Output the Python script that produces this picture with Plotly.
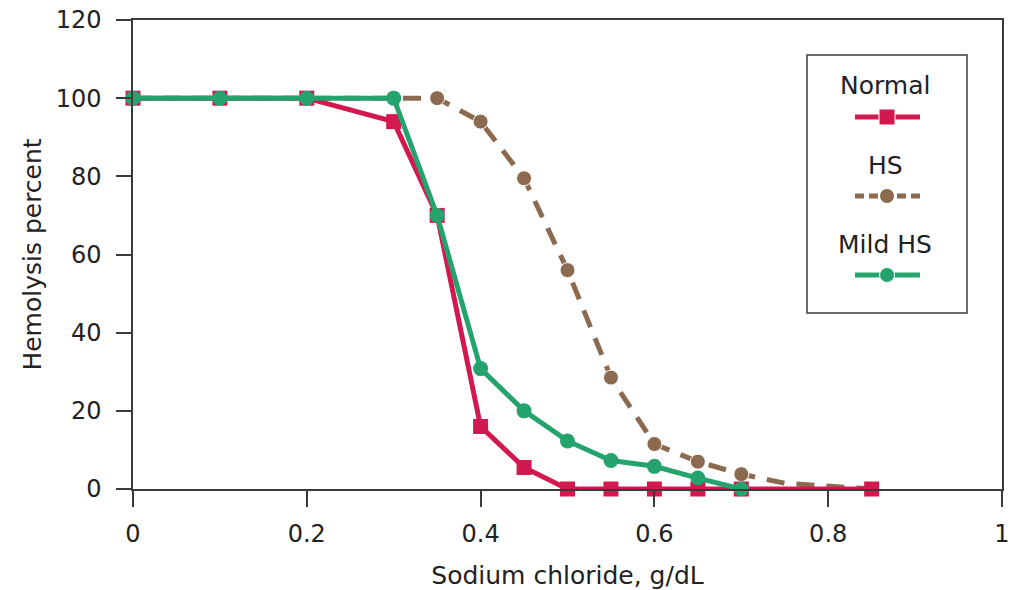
import plotly.graph_objects as go

# ---- data ----
normal_x = [0, 0.1, 0.2, 0.3, 0.35, 0.4, 0.45, 0.5, 0.55, 0.6, 0.65, 0.7, 0.85]
normal_y = [100, 100, 100, 94, 70, 16, 5.5, 0, 0, 0, 0, 0, 0]

hs_x = [0, 0.1, 0.2, 0.3, 0.35, 0.4, 0.45, 0.5, 0.55, 0.6, 0.65, 0.7, 0.75, 0.85]
hs_y = [100, 100, 100, 100, 100, 94, 79.5, 56, 28.5, 11.5, 7, 3.8, 1.5, 0]

mild_x = [0, 0.1, 0.2, 0.3, 0.35, 0.4, 0.45, 0.5, 0.55, 0.6, 0.65, 0.7]
mild_y = [100, 100, 100, 100, 70, 30.8, 20, 12.3, 7.3, 5.8, 2.8, 0]

series_names = ["Normal", "HS", "Mild HS"]
x_ticks = [0, 0.2, 0.4, 0.6, 0.8, 1]
x_tick_text = ["0", "0.2", "0.4", "0.6", "0.8", "1"]
y_ticks = [0, 20, 40, 60, 80, 100, 120]

RED = "#D3184F"
BROWN = "#8C6A50"
GREEN = "#25A36C"
AXIS = "#3a3a3a"
FONT = "DejaVu Sans"
LW = 5

fig = go.Figure()

hs_sizes = [15] * 12 + [0, 0]
fig.add_trace(go.Scatter(
    x=hs_x, y=hs_y, mode="lines+markers", name=series_names[1],
    line=dict(color=BROWN, width=LW, dash="18px,12px"),
    marker=dict(symbol="circle", size=hs_sizes, color=BROWN, opacity=1),
    cliponaxis=False, showlegend=False))
fig.add_trace(go.Scatter(
    x=normal_x, y=normal_y, mode="lines+markers", name=series_names[0],
    line=dict(color=RED, width=LW),
    marker=dict(symbol="square", size=15, color=RED, opacity=1),
    cliponaxis=False, showlegend=False))
fig.add_trace(go.Scatter(
    x=mild_x, y=mild_y, mode="lines+markers", name=series_names[2],
    line=dict(color=GREEN, width=LW),
    marker=dict(symbol="circle", size=15, color=GREEN, opacity=1),
    cliponaxis=False, showlegend=False))

# ---- custom legend (text above sample, boxed) on an overlay axis in paper units ----
leg_x = [0.8308, 0.8677, 0.9056]
leg_rows = [
    (series_names[0], 0.8614, 0.7932, RED, "solid", "square", 16),
    (series_names[1], 0.6908, 0.6247, BROWN, "9px,5px", "circle", 15),
    (series_names[2], 0.5203, 0.4563, GREEN, "solid", "circle", 15),
]
for name, ty, sy, col, dash, sym, msz in leg_rows:
    fig.add_trace(go.Scatter(
        x=leg_x, y=[sy] * 3, xaxis="x2", yaxis="y2", mode="lines+markers",
        line=dict(color=col, width=LW, dash=dash),
        marker=dict(symbol=sym, size=[0, msz, 0], color=col, opacity=1),
        showlegend=False, hoverinfo="skip", cliponaxis=False))
    fig.add_annotation(x=0.8654, y=ty, xref="paper", yref="paper",
                       text=name, showarrow=False,
                       font=dict(family=FONT, size=25, color="#222"),
                       xanchor="center", yanchor="middle")

fig.add_shape(type="rect", xref="paper", yref="paper",
              x0=0.7756, x1=0.9597, y0=0.3753, y1=0.9254,
              line=dict(color=AXIS, width=1.5), fillcolor="rgba(0,0,0,0)")

fig.update_layout(
    width=1017, height=590,
    margin=dict(l=133, r=15, t=20, b=101),
    paper_bgcolor="white", plot_bgcolor="white",
    font=dict(family=FONT, size=24, color="#222"),
    xaxis=dict(range=[0, 1], tickvals=x_ticks, ticktext=x_tick_text,
               automargin=False, ticklabeloverflow="allow",
               showgrid=False, zeroline=False, showline=True, mirror=True,
               linecolor=AXIS, linewidth=1.5, ticks="outside", ticklen=16,
               tickwidth=1.5, tickcolor=AXIS, ticklabelstandoff=6,
               title=dict(text="Sodium chloride, g/dL", standoff=22,
                          font=dict(family=FONT, size=25, color="#222"))),
    yaxis=dict(range=[0, 120], tickvals=y_ticks, automargin=False,
               ticklabeloverflow="allow",
               showgrid=False, zeroline=False, showline=True, mirror=True,
               linecolor=AXIS, linewidth=1.5, ticks="outside", ticklen=15,
               tickwidth=1.5, tickcolor=AXIS, ticklabelstandoff=10,
               title=dict(text="Hemolysis percent", standoff=7,
                          font=dict(family=FONT, size=25, color="#222"))),
    xaxis2=dict(range=[0, 1], domain=[0, 1], overlaying="x", visible=False,
                fixedrange=True, automargin=False),
    yaxis2=dict(range=[0, 1], domain=[0, 1], overlaying="y", visible=False,
                fixedrange=True, anchor="x2", automargin=False),
)

# remove the browser's default 8px body margin so the figure fills the window
fig.write_html("out.html", config={"displayModeBar": False},
               post_script="document.body.style.margin='0px';")
